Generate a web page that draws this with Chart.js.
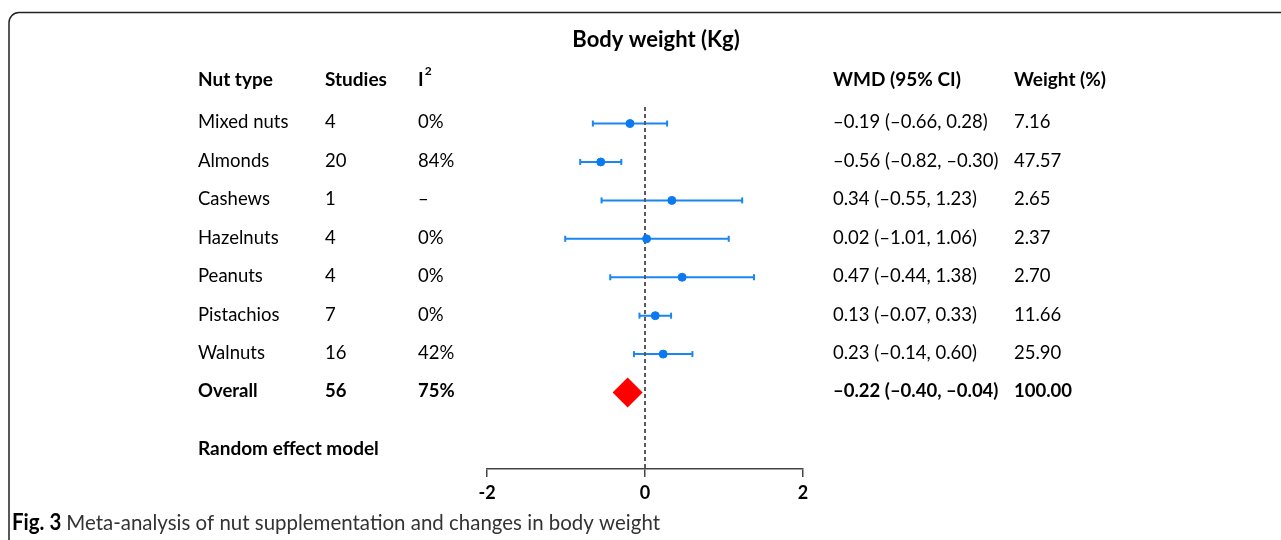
<!DOCTYPE html>
<html>
<head>
<meta charset="utf-8">
<script src="https://cdn.jsdelivr.net/npm/chart.js@4.4.1/dist/chart.umd.min.js"></script>
<style>
  body { margin: 0; background: #fff; }
  canvas { display: block; }
</style>
</head>
<body>
<canvas id="forestChart" width="1281" height="540"></canvas>
<script>
// Data
const nutTypes = ['Mixed nuts', 'Almonds', 'Cashews', 'Hazelnuts', 'Peanuts', 'Pistachios', 'Walnuts'];
const studies = [4, 20, 1, 4, 4, 7, 16];
const iSquared = ['0%', '84%', '–', '0%', '0%', '0%', '42%'];
const wmd = [-0.19, -0.56, 0.34, 0.02, 0.47, 0.13, 0.23];
const ciLow = [-0.66, -0.82, -0.55, -1.01, -0.44, -0.07, -0.14];
const ciHigh = [0.28, -0.30, 1.23, 1.06, 1.38, 0.33, 0.60];
const weights = ['7.16', '47.57', '2.65', '2.37', '2.70', '11.66', '25.90'];

const overallLabel = 'Overall';
const overallStudies = 56;
const overallI2 = '75%';
const overallWmd = -0.22;
const overallLow = -0.40;
const overallHigh = -0.04;
const overallWeight = '100.00';

const xTicks = [-2, 0, 2];

const blue = '#1a86f2';
const dotBlue = '#0b79f0';
const fontFamily = 'Lato, "Open Sans", sans-serif';

function fmt(v) {
    return (v < 0 ? '–' : '') + Math.abs(v).toFixed(2);
}

// error bar segments, one small line dataset each
const barSets = nutTypes.map((name, i) => ({
    type: 'line',
    label: name,
    data: [{ x: ciLow[i], y: i }, { x: ciHigh[i], y: i }],
    borderColor: blue,
    borderWidth: 2,
    pointStyle: 'line',
    rotation: 90,
    pointRadius: 3,
    pointBorderColor: blue,
    pointBorderWidth: 2,
    order: 3
}));

// table text, title, frame and caption
const tablePlugin = {
    id: 'tableText',
    afterDraw(chart) {
        const ctx = chart.ctx;
        const yScale = chart.scales.y;
        const rowY = i => yScale.getPixelForValue(i) - 1;
        const cols = { name: 198, studies: 325, i2: 418, wmd: 833, weight: 1014 };

        ctx.save();
        ctx.fillStyle = '#000';
        ctx.textBaseline = 'middle';
        ctx.textAlign = 'left';

        // frame
        ctx.strokeStyle = '#222';
        ctx.lineWidth = 1.5;
        ctx.beginPath();
        ctx.moveTo(9, 540);
        ctx.lineTo(9, 23);
        ctx.arcTo(9, 12.5, 20, 12.5, 10);
        ctx.lineTo(1281, 12.5);
        ctx.stroke();

        // title
        ctx.font = 'bold 22px ' + fontFamily;
        ctx.textAlign = 'center';
        ctx.fillText('Body weight (Kg)', 656, 40);
        ctx.textAlign = 'left';

        // headers
        const hy = rowY(-1.1);
        ctx.font = 'bold 19px ' + fontFamily;
        ctx.fillText('Nut type', cols.name, hy);
        ctx.fillText('Studies', cols.studies, hy);
        ctx.fillText('I', cols.i2, hy);
        ctx.fillText('WMD (95% CI)', cols.wmd, hy);
        ctx.fillText('Weight (%)', cols.weight, hy);
        const iw = ctx.measureText('I').width;
        ctx.font = 'bold 12px ' + fontFamily;
        ctx.fillText('2', cols.i2 + iw + 1, hy - 9);

        // study rows
        ctx.font = '18.5px ' + fontFamily;
        nutTypes.forEach((name, i) => {
            const y = rowY(i);
            ctx.fillText(name, cols.name, y);
            ctx.fillText(String(studies[i]), cols.studies, y);
            ctx.fillText(iSquared[i], cols.i2, y);
            ctx.fillText(fmt(wmd[i]) + ' (' + fmt(ciLow[i]) + ', ' + fmt(ciHigh[i]) + ')', cols.wmd, y);
            ctx.fillText(weights[i], cols.weight, y);
        });

        // overall row
        const oy = rowY(nutTypes.length);
        ctx.font = 'bold 18.5px ' + fontFamily;
        ctx.fillText(overallLabel, cols.name, oy);
        ctx.fillText(String(overallStudies), cols.studies, oy);
        ctx.fillText(overallI2, cols.i2, oy);
        ctx.fillText(fmt(overallWmd) + ' (' + fmt(overallLow) + ', ' + fmt(overallHigh) + ')', cols.wmd, oy);
        ctx.fillText(overallWeight, cols.weight, oy);

        ctx.font = 'bold 19px ' + fontFamily;
        ctx.fillText('Random effect model', cols.name, rowY(8.49));

        // caption, squeezed to the figure's width
        const capY = 523;
        ctx.font = 'bold 22px ' + fontFamily;
        const figText = 'Fig. 3 ';
        const figW = ctx.measureText(figText).width;
        ctx.font = '22px ' + fontFamily;
        const capText = 'Meta-analysis of nut supplementation and changes in body weight';
        const capW = ctx.measureText(capText).width;
        const sx = (660 - 12) / (figW + capW);
        ctx.translate(12, capY);
        ctx.scale(sx, 1);
        ctx.font = 'bold 22px ' + fontFamily;
        ctx.fillStyle = '#000';
        ctx.fillText(figText, 0, 0);
        ctx.font = '22px ' + fontFamily;
        ctx.fillStyle = '#333';
        ctx.fillText(capText, figW, 0);
        ctx.restore();
    }
};

const forestChart = new Chart(document.getElementById('forestChart'), {
    type: 'scatter',
    data: {
        datasets: [
            {
                label: 'WMD',
                data: wmd.map((v, i) => ({ x: v, y: i })),
                backgroundColor: dotBlue,
                borderColor: dotBlue,
                pointRadius: 4,
                order: 0
            },
            {
                label: 'Overall',
                data: [{ x: overallWmd, y: nutTypes.length }],
                pointStyle: 'rectRot',
                backgroundColor: '#ff0000',
                borderColor: '#ff0000',
                borderWidth: 0,
                // diamond spans the pooled confidence interval
                pointRadius: c => {
                    const xs = c.chart.scales.x;
                    return (xs.getPixelForValue(overallHigh) - xs.getPixelForValue(overallLow)) / 2 + 0.8;
                },
                order: 0
            },
            {
                type: 'line',
                label: 'No effect',
                data: [{ x: 0, y: -0.43 }, { x: 0, y: 8.99 }],
                borderColor: '#5a5a5a',
                borderWidth: 2,
                borderDash: [4, 3],
                pointRadius: 0,
                order: 2
            },
            ...barSets
        ]
    },
    options: {
        responsive: false,
        devicePixelRatio: 1,
        animation: false,
        layout: {
            padding: { left: 487, right: 478, top: 107, bottom: 31 }
        },
        plugins: {
            legend: { display: false },
            tooltip: { enabled: false }
        },
        scales: {
            x: {
                type: 'linear',
                min: -2,
                max: 2,
                afterBuildTicks: scale => {
                    scale.ticks = xTicks.map(v => ({ value: v }));
                },
                afterFit: scale => {
                    scale.height = 40;
                },
                grid: {
                    drawOnChartArea: false,
                    tickLength: 8,
                    color: '#444',
                    lineWidth: 1.5
                },
                border: { color: '#444', width: 1.5 },
                ticks: {
                    padding: 5,
                    color: '#000',
                    font: { family: fontFamily, size: 18, weight: 'bold' }
                }
            },
            y: {
                type: 'linear',
                display: false,
                reverse: true,
                min: -0.43,
                max: 8.99
            }
        }
    },
    plugins: [tablePlugin]
});
</script>
</body>
</html>
